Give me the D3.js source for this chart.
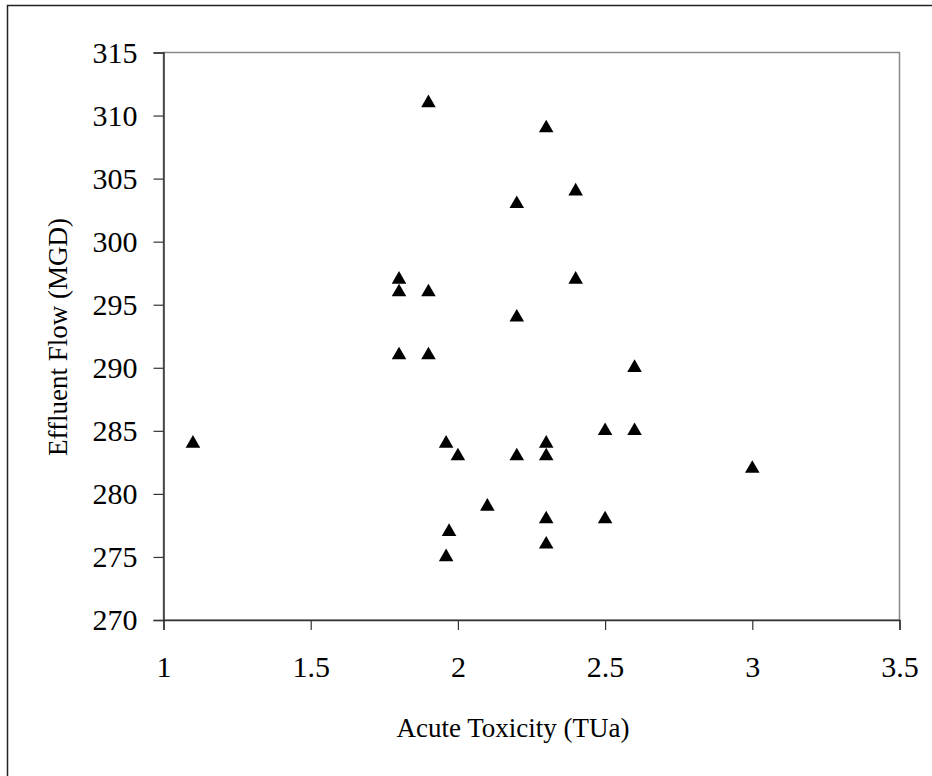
<!DOCTYPE html>
<html>
<head>
<meta charset="utf-8">
<script src="https://cdn.jsdelivr.net/npm/d3@7"></script>
<style>
  body { margin: 0; background: #fff; }
  text { font-family: "Liberation Serif", "Times New Roman", serif; fill: #000; }
</style>
</head>
<body>
<div id="chart"></div>
<script>
// Acute toxicity (TUa) vs effluent flow (MGD)
const toxicity = [1.1, 1.8, 1.8, 1.8, 1.9, 1.9, 1.9, 1.96, 1.96, 1.97, 2.0, 2.1,
                  2.2, 2.2, 2.2, 2.3, 2.3, 2.3, 2.3, 2.3, 2.4, 2.4, 2.5, 2.5, 2.6, 2.6, 3.0];
const flow =     [284, 297, 296, 291, 311, 296, 291, 284, 275, 277, 283, 279,
                  303, 294, 283, 309, 284, 283, 278, 276, 304, 297, 285, 278, 290, 285, 282];
const xTicks = [1, 1.5, 2, 2.5, 3, 3.5];
const yTicks = [270, 275, 280, 285, 290, 295, 300, 305, 310, 315];

const width = 932, height = 776;
const margin = {top: 52.5, right: 32.5, bottom: 156, left: 163.5};
const plotW = width - margin.left - margin.right;
const plotH = height - margin.top - margin.bottom;

let svg = d3.select("#chart")
    .append("svg")
    .attr("width", width)
    .attr("height", height);

// outer chart frame (only top/left visible, rest runs off the page)
svg.append("rect")
    .attr("x", 7.5).attr("y", 5.5)
    .attr("width", width + 20).attr("height", height + 20)
    .attr("fill", "none")
    .attr("stroke", "#222")
    .attr("stroke-width", 1.5);

let g = svg.append("g")
    .attr("transform", `translate(${margin.left}, ${margin.top})`);

let x = d3.scaleLinear().domain([1, 3.5]).range([0, plotW]);
let y = d3.scaleLinear().domain([270, 315]).range([plotH, 0]);

// plot area border (grey on top and right)
g.append("rect")
    .attr("width", plotW).attr("height", plotH)
    .attr("fill", "none")
    .attr("stroke", "#888")
    .attr("stroke-width", 1.5);

// x axis
let xAxis = g.append("g")
    .attr("transform", `translate(0, ${plotH})`)
    .call(d3.axisBottom(x).tickValues(xTicks).tickFormat(d3.format("")).tickSize(10).tickPadding(26));
xAxis.select(".domain").attr("stroke", "#333").attr("stroke-width", 1.5);
xAxis.selectAll(".tick line").attr("stroke", "#333").attr("stroke-width", 1.2);
xAxis.selectAll("text").style("font-size", "30px").style("font-family", "Liberation Serif");

// y axis
let yAxis = g.append("g")
    .call(d3.axisLeft(y).tickValues(yTicks).tickSize(10).tickPadding(16));
yAxis.select(".domain").attr("stroke", "#333").attr("stroke-width", 1.5);
yAxis.selectAll(".tick line").attr("stroke", "#333").attr("stroke-width", 1.2);
yAxis.selectAll("text").style("font-size", "30px").style("font-family", "Liberation Serif");

// axis titles
svg.append("text")
    .attr("x", 513)
    .attr("y", 737)
    .style("text-anchor", "middle")
    .style("font-size", "27px")
    .text("Acute Toxicity (TUa)");

svg.append("text")
    .style("text-anchor", "middle")
    .style("font-size", "27px")
    .attr("transform", `translate(67, 337) rotate(-90)`)
    .text("Effluent Flow (MGD)");

// triangle markers
let pts = toxicity.map((t, i) => ({t: t, f: flow[i]}));
g.selectAll("path.pt")
    .data(pts)
    .enter()
    .append("path")
    .attr("class", "pt")
    .attr("d", d3.symbol(d3.symbolTriangle, 92))
    .attr("transform", function(d) { return `translate(${x(d.t)}, ${y(d.f)})`; })
    .attr("fill", "#000");
</script>
</body>
</html>
